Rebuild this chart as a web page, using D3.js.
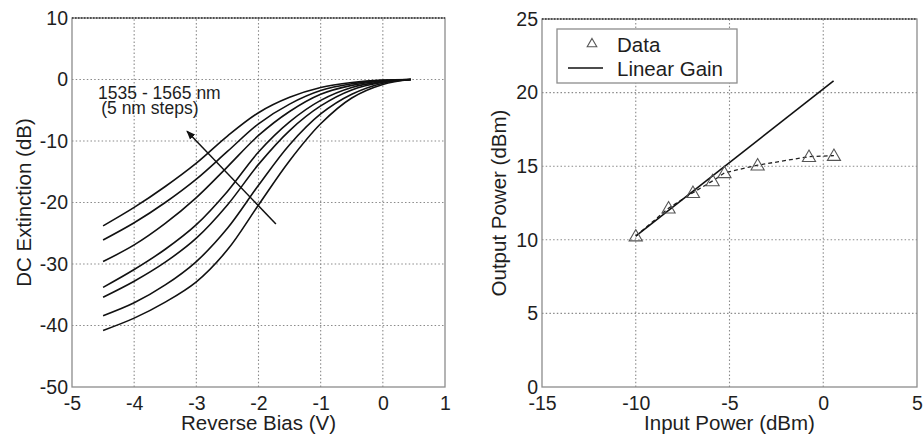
<!DOCTYPE html>
<html>
<head>
<meta charset="utf-8">
<script src="https://cdn.jsdelivr.net/npm/d3@7"></script>
<style>
  body { margin: 0; background: #fff; }
  text { font-family: "Liberation Sans", Arial, sans-serif; fill: #1e1e1e; }
</style>
</head>
<body>
<div id="chart"></div>
<script>
// ---- left panel: DC extinction vs reverse bias, 1535..1565 nm ----
const biasV = [-4.5, -4, -3.5, -3, -2.5, -2, -1.5, -1, -0.5, 0, 0.45];
const extinction = [
    [-23.8, -20.8, -17.4, -13.6, -9.2, -5.4, -2.9, -1.3, -0.5, -0.1, 0],
    [-26.1, -23.3, -20.0, -16.2, -11.7, -7.2, -4.0, -1.8, -0.7, -0.15, 0],
    [-29.6, -26.9, -23.4, -19.2, -14.2, -9.1, -5.2, -2.4, -0.95, -0.25, 0],
    [-33.8, -30.9, -27.6, -23.6, -18.2, -11.8, -6.9, -3.4, -1.3, -0.35, 0],
    [-35.4, -32.8, -29.7, -25.8, -20.4, -13.8, -8.3, -4.3, -1.7, -0.45, 0],
    [-38.4, -36.3, -33.4, -29.6, -24.2, -17.2, -10.6, -5.6, -2.4, -0.6, 0],
    [-40.8, -38.8, -36.2, -32.9, -27.7, -20.4, -13.2, -7.2, -3.0, -0.8, 0]
];
const biasTicks = [-5, -4, -3, -2, -1, 0, 1];
const extTicks = [-50, -40, -30, -20, -10, 0, 10];
const arrowX = [-1.72, -3.15];
const arrowY = [-23.5, -8.4];

// ---- right panel: output vs input power ----
const inputPower = [-10, -8.25, -6.95, -5.9, -5.27, -3.5, -0.76, 0.57];
const outputPower = [10.25, 12.15, 13.2, 14.0, 14.55, 15.07, 15.65, 15.72];
const gainX = [-10, 0.55];
const gainY = [10.25, 20.8];
const inTicks = [-15, -10, -5, 0, 5];
const outTicks = [0, 5, 10, 15, 20, 25];

const W = 923, H = 436;
const svg = d3.select("#chart").append("svg")
    .attr("width", W).attr("height", H)
    .attr("viewBox", `0 0 ${W} ${H}`);
svg.append("rect").attr("width", W).attr("height", H).attr("fill", "#fff");

const defs = svg.append("defs");
defs.append("marker")
    .attr("id", "ahead")
    .attr("viewBox", "0 0 10 10")
    .attr("refX", 9).attr("refY", 5)
    .attr("markerWidth", 9).attr("markerHeight", 9)
    .attr("markerUnits", "userSpaceOnUse")
    .attr("orient", "auto")
    .append("path").attr("d", "M0,1 L10,5 L0,9 Z").attr("fill", "#111");

// plain hyphen minus like the original, not the unicode minus of d3.format
const fmt = d => String(d);

// draws grid, frame, tick labels and axis titles of one panel
function panel(x, y, xt, yt, xTitle, yTitle, yTitleX) {
    const g = svg.append("g");
    const [x0, x1] = x.range(), [y0, y1] = y.range();

    g.selectAll(".vgrid").data(xt.slice(1, -1)).enter().append("line")
        .attr("x1", d => x(d)).attr("x2", d => x(d))
        .attr("y1", y0).attr("y2", y1)
        .attr("stroke", "#8a8a8a").attr("stroke-width", 1.1)
        .attr("stroke-dasharray", "1.5,2.2");
    g.selectAll(".hgrid").data(yt.slice(1)).enter().append("line")
        .attr("x1", x0).attr("x2", x1)
        .attr("y1", d => y(d)).attr("y2", d => y(d))
        .attr("stroke", "#8a8a8a").attr("stroke-width", 1.1)
        .attr("stroke-dasharray", "1.5,2.2");

    g.append("rect")
        .attr("x", x0).attr("y", y1)
        .attr("width", x1 - x0).attr("height", y0 - y1)
        .attr("fill", "none").attr("stroke", "#8c8c8c").attr("stroke-width", 1.3);
    // top edge reads as a dark dotted line
    g.append("line")
        .attr("x1", x0).attr("x2", x1).attr("y1", y1).attr("y2", y1)
        .attr("stroke", "#333").attr("stroke-width", 1.5)
        .attr("stroke-dasharray", "1.5,1.5");

    const ax = g.append("g").attr("transform", `translate(0,${y0})`)
        .call(d3.axisBottom(x).tickValues(xt).tickSize(0).tickPadding(9).tickFormat(fmt));
    const ay = g.append("g").attr("transform", `translate(${x0},0)`)
        .call(d3.axisLeft(y).tickValues(yt).tickSize(0).tickPadding(4).tickFormat(fmt));
    [ax, ay].forEach(a => {
        a.select(".domain").remove();
        a.selectAll("text").style("font-size", "19.5px")
            .style("font-family", '"Liberation Sans", Arial, sans-serif')
            .attr("fill", "#1e1e1e");
    });

    g.append("text")
        .attr("x", (x0 + x1) / 2).attr("y", 430)
        .attr("text-anchor", "middle")
        .style("font-size", "20.5px")
        .text(xTitle);
    g.append("text")
        .attr("transform", `translate(${yTitleX},${(y0 + y1) / 2}) rotate(-90)`)
        .attr("text-anchor", "middle")
        .style("font-size", "20.5px")
        .text(yTitle);
    return g;
}

// ---------- left ----------
const xL = d3.scaleLinear().domain([-5, 1]).range([72, 445]);
const yL = d3.scaleLinear().domain([-50, 10]).range([387, 18]);
const gL = panel(xL, yL, biasTicks, extTicks, "Reverse Bias (V)", "DC Extinction (dB)", 31);

const extLine = d3.line()
    .x((d, i) => xL(biasV[i]))
    .y(d => yL(d))
    .curve(d3.curveCatmullRom.alpha(0.5));
gL.selectAll(".ext").data(extinction).enter().append("path")
    .attr("d", extLine)
    .attr("fill", "none")
    .attr("stroke", "#111")
    .attr("stroke-width", 1.6);

gL.append("line")
    .attr("x1", xL(arrowX[0])).attr("y1", yL(arrowY[0]))
    .attr("x2", xL(arrowX[1])).attr("y2", yL(arrowY[1]))
    .attr("stroke", "#111").attr("stroke-width", 1.5)
    .attr("marker-end", "url(#ahead)");

const note = gL.append("text").style("font-size", "17.5px");
note.append("tspan").attr("x", xL(-4.58)).attr("y", yL(-3.1)).text("1535 - 1565 nm");
note.append("tspan").attr("x", xL(-4.53)).attr("y", yL(-5.55)).text("(5 nm steps)");

// ---------- right ----------
const xR = d3.scaleLinear().domain([-15, 5]).range([542, 917]);
const yR = d3.scaleLinear().domain([0, 25]).range([387, 19]);
const gR = panel(xR, yR, inTicks, outTicks, "Input Power (dBm)", "Output Power (dBm)", 506);

const pts = inputPower.map((v, i) => [v, outputPower[i]]);
const gainPts = gainX.map((v, i) => [v, gainY[i]]);
const lineR = d3.line().x(d => xR(d[0])).y(d => yR(d[1]));

gR.append("path").attr("d", lineR(pts))
    .attr("fill", "none").attr("stroke", "#222")
    .attr("stroke-width", 1.3).attr("stroke-dasharray", "4,3");
gR.append("path").attr("d", lineR(gainPts))
    .attr("fill", "none").attr("stroke", "#111").attr("stroke-width", 1.6);

const tri = d3.symbol().type(d3.symbolTriangle).size(75);
gR.selectAll(".tri").data(pts).enter().append("path")
    .attr("d", tri)
    .attr("transform", d => `translate(${xR(d[0])},${yR(d[1]) + 1})`)
    .attr("fill", "none").attr("stroke", "#555").attr("stroke-width", 1.1);

// legend
const lg = gR.append("g").attr("transform", "translate(557,29)");
lg.append("rect").attr("width", 180).attr("height", 54)
    .attr("fill", "#fff").attr("stroke", "#8c8c8c").attr("stroke-width", 1.3);
lg.append("path").attr("d", d3.symbol().type(d3.symbolTriangle).size(40))
    .attr("transform", "translate(35,15)")
    .attr("fill", "none").attr("stroke", "#555").attr("stroke-width", 1.1);
lg.append("line").attr("x1", 11).attr("x2", 46).attr("y1", 39).attr("y2", 39)
    .attr("stroke", "#111").attr("stroke-width", 1.6);
lg.append("text").attr("x", 60).attr("y", 22.5).style("font-size", "20.5px").text("Data");
lg.append("text").attr("x", 60).attr("y", 47).style("font-size", "20.5px").text("Linear Gain");
</script>
</body>
</html>
